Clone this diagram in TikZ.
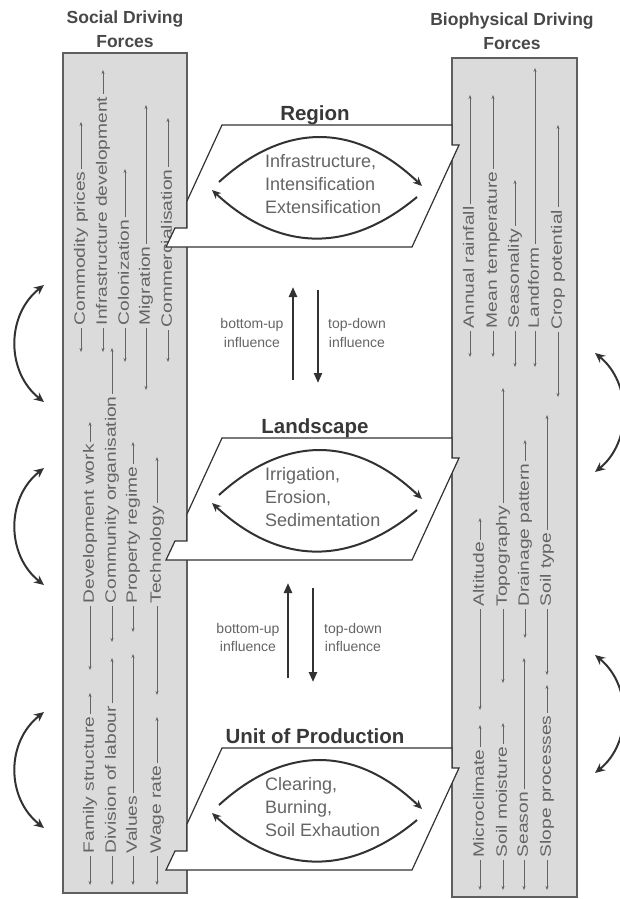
\documentclass[tikz,border=0pt]{standalone}
\usepackage{fontspec}
\setmainfont{Liberation Sans}
\newfontfamily\colfont[FakeStretch=1.28]{Liberation Sans}
\usetikzlibrary{arrows.meta}

\definecolor{panelfill}{RGB}{219,219,219}
\definecolor{panelline}{RGB}{95,95,95}
\definecolor{labgray}{RGB}{100,100,100}
\definecolor{darkline}{RGB}{50,50,50}
\definecolor{headgray}{RGB}{72,72,72}

% one level of scale: a slanted plane piercing both panels, with its title,
% its two-way process arcs and three lines of processes
\newcommand\drawplane[6]{%
  \path[plane] (222,#1) -- (452,#1) -- (452,#1+20) -- (459,#1+20) -- (412,#1+122)
    -- (166,#1+122) -- (175,#1+103) -- (187,#1+103) -- (187,#1+76) -- cycle;
  \node[ptitle] (#2-title) at (315,#1-5) {#3};
  \coordinate (#2-ul) at (219,#1+57);
  \coordinate (#2-ur) at (422,#1+61);
  \coordinate (#2-lr) at (417,#1+72);
  \coordinate (#2-ll) at (212,#1+65);
  \draw[cyc] (#2-ul) .. controls (285,#1-3) and (355,#1-3) .. (#2-ur);
  \draw[cyc] (#2-lr) .. controls (350,#1+128) and (280,#1+128) .. (#2-ll);
  \node[proc] (#2-p1) at (265,#1+42) {#4};
  \node[proc] (#2-p2) at (265,#1+65) {#5};
  \node[proc] (#2-p3) at (265,#1+88) {#6};
}

\begin{document}
\begin{tikzpicture}[x=1pt,y=-1pt,
  panel/.style={fill=panelfill, draw=panelline, line width=1.4pt},
  plane/.style={fill=white, draw=darkline, line width=1.2pt, line join=miter},
  head/.style={font=\bfseries\fontsize{17.5}{24}\selectfont, text=headgray, anchor=base, inner sep=0pt},
  ptitle/.style={font=\bfseries\fontsize{20.5}{24}\selectfont, text=black!78, anchor=base, inner sep=0pt},
  proc/.style={font=\fontsize{18}{23}\selectfont, text=labgray, anchor=base west, inner sep=0pt},
  infl/.style={font=\fontsize{14}{19}\selectfont, text=labgray, anchor=base, inner sep=0pt},
  vlab/.style={rotate=90, anchor=west, font=\colfont\fontsize{15}{15}\selectfont, text=labgray,
    inner xsep=2.5pt, inner ysep=0pt, text height=11pt, text depth=3.5pt},
  varrow/.style={draw=labgray, line width=0.7pt, -{Stealth[length=4pt,width=3pt]}},
  cyc/.style={draw=darkline, line width=2pt, -{Stealth[length=9pt,width=8pt]}},
  swing/.style={draw=darkline, line width=2pt, {Stealth[length=10pt,width=9pt]}-{Stealth[length=10pt,width=9pt]}},
  flow/.style={draw=darkline, line width=2.4pt, -{Triangle[length=10pt,width=8pt]}},
]
\useasboundingbox (0,0) rectangle (620,899);

% driving-force panels
\path[panel] (63,53) rectangle (187,893);
\path[panel] (452,58) rectangle (577,897);

% panel headings
\node[head] (soc1) at (125,24) {Social Driving};
\node[head] (soc2) at (125,48) {Forces};
\node[head] (bio1) at (512,26) {Biophysical Driving};
\node[head] (bio2) at (512,49) {Forces};

% driving forces: column x / text start / lower tip / upper tip / text
\foreach \x/\s/\b/\t/\txt [count=\i] in {
   81/328/352/122/Commodity prices,
  103/328/352/70/Infrastructure development,
  125/328/362/169/Colonization,
  146/328/390/105/Migration,
  168/330/362/118/Commercialisation,
   90/606/670/422/Development work,
  112/606/642/348/Community organisation,
  133/606/632/442/Property regime,
  157/606/695/457/Technology,
   90/856/885/693/Family structure,
  112/856/885/658/Division of labour,
  133/856/885/654/Values,
  157/856/885/717/Wage rate,
  470/331/357/95/Annual rainfall,
  493/331/357/95/Mean temperature,
  515/331/367/180/Seasonality,
  535/331/367/68/Landform,
  558/332/397/125/Crop potential,
  480/609/710/518/Altitude,
  503/609/683/388/Topography,
  525/609/638/440/Drainage pattern,
  547/609/675/415/Soil type,
  480/860/890/725/Microclimate,
  503/860/890/723/Soil moisture,
  524/860/890/658/Season,
  547/860/890/685/Slope processes}{
  \coordinate (top\i) at (\x,\t);
  \coordinate (bot\i) at (\x,\b);
  \node[vlab] (lab\i) at (\x,\s) {\txt};
  \draw[varrow] (lab\i.east) -- (top\i);
  \draw[varrow] (lab\i.west) -- (bot\i);
}

% the three levels
\drawplane{125}{reg}{Region}{Infrastructure,}{Intensification}{Extensification}
\drawplane{438}{land}{Landscape}{Irrigation,}{Erosion,}{Sedimentation}
\drawplane{748}{unit}{Unit of Production}{Clearing,}{Burning,}{Soil Exhaution}

% influences between levels
\coordinate (bu1s) at (293,380); \coordinate (bu1e) at (293,287);
\coordinate (td1s) at (318,290); \coordinate (td1e) at (318,383);
\draw[flow] (bu1s) -- (bu1e);
\draw[flow] (td1s) -- (td1e);
\node[infl] (bu1a) at (252,328) {bottom-up};
\node[infl] (bu1b) at (252,347) {influence};
\node[infl] (td1a) at (357,328) {top-down};
\node[infl] (td1b) at (357,347) {influence};

\coordinate (bu2s) at (288,678); \coordinate (bu2e) at (288,583);
\coordinate (td2s) at (313,588); \coordinate (td2e) at (313,682);
\draw[flow] (bu2s) -- (bu2e);
\draw[flow] (td2s) -- (td2e);
\node[infl] (bu2a) at (248,633) {bottom-up};
\node[infl] (bu2b) at (248,651) {influence};
\node[infl] (td2a) at (353,633) {top-down};
\node[infl] (td2b) at (353,651) {influence};

% interactions among the social forces
\coordinate (ls1a) at (44,285); \coordinate (ls1b) at (44,402);
\coordinate (ls2a) at (44,468); \coordinate (ls2b) at (44,585);
\coordinate (ls3a) at (44,712); \coordinate (ls3b) at (44,828);
\draw[swing] (ls1a) .. controls (6,315) and (6,372) .. (ls1b);
\draw[swing] (ls2a) .. controls (6,498) and (6,555) .. (ls2b);
\draw[swing] (ls3a) .. controls (6,742) and (6,798) .. (ls3b);

% interactions among the biophysical forces
\coordinate (rs1a) at (595,353); \coordinate (rs1b) at (595,472);
\coordinate (rs2a) at (595,655); \coordinate (rs2b) at (595,773);
\draw[swing] (rs1a) .. controls (632,383) and (632,442) .. (rs1b);
\draw[swing] (rs2a) .. controls (632,685) and (632,743) .. (rs2b);
\end{tikzpicture}
\end{document}
